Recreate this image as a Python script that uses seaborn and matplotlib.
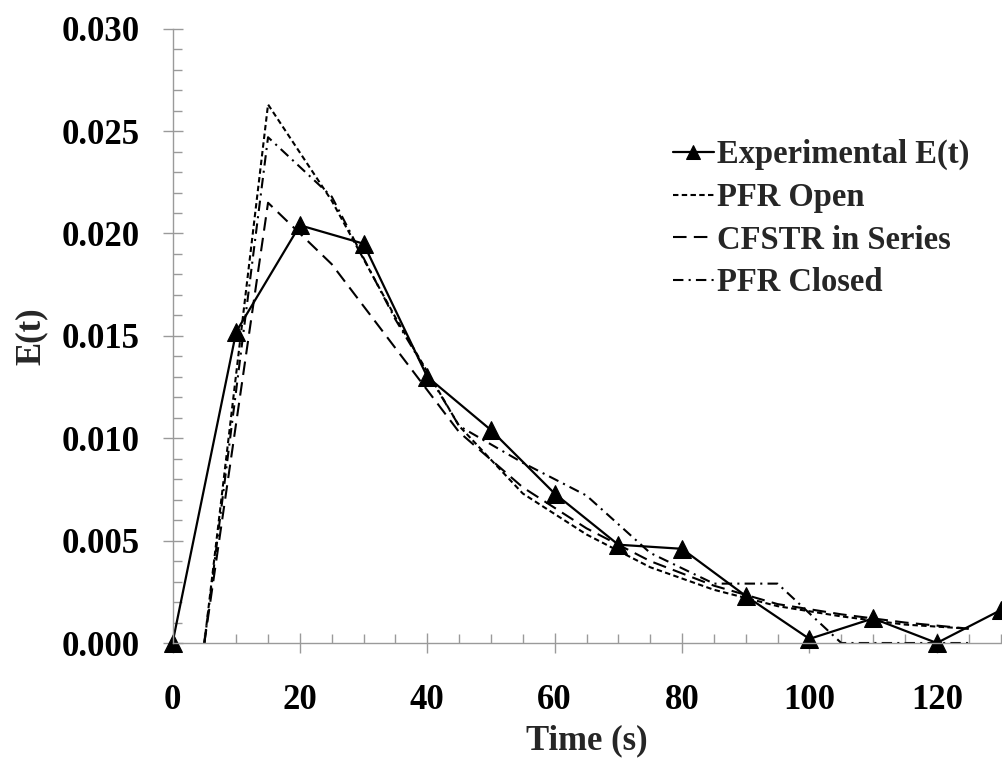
import numpy as np
import pandas as pd
import matplotlib
matplotlib.use("Agg")
import matplotlib.pyplot as plt
from matplotlib.ticker import MultipleLocator, FormatStrFormatter
import seaborn as sns

# ---- data ----
exp_time = [0, 10, 20, 30, 40, 50, 60, 70, 80, 90, 100, 110, 120, 130]
exp_E = [0.0, 0.0152, 0.0204, 0.0195, 0.0130, 0.0104, 0.0073, 0.0048,
         0.0046, 0.0023, 0.0002, 0.0012, 0.0, 0.0016]

model_time = [5, 15, 25, 35, 45, 55, 65, 75, 85, 95, 105, 115, 125]
pfr_open = [0.0, 0.0263, 0.0216, 0.0159, 0.0106, 0.0073, 0.0053, 0.0037,
            0.0026, 0.0018, 0.0013, 0.0009, 0.0007]
cfstr_series = [0.0, 0.0215, 0.0185, 0.0144, 0.0103, 0.0076, 0.0056, 0.0040,
                0.0028, 0.0019, 0.0014, 0.0010, 0.0007]
pfr_closed = [0.0, 0.0247, 0.0218, 0.0158, 0.0106, 0.0088, 0.0072, 0.0044,
              0.0029, 0.0029, 0.0, 0.0, 0.0]

labels = ["Experimental E(t)", "PFR Open", "CFSTR in Series", "PFR Closed"]

# ---- style ----
sns.set_style("ticks")
plt.rcParams["font.family"] = ["Liberation Serif", "DejaVu Serif"]
plt.rcParams["font.weight"] = "bold"

fig = plt.figure(figsize=(10.02, 7.59), dpi=100)
ax = fig.add_axes([172.5 / 1002, 1 - 643 / 759, 828 / 1002, (643 - 28.7) / 759])

df_exp = pd.DataFrame({"t": exp_time, "E": exp_E})
df_mod = pd.DataFrame({"t": model_time, "open": pfr_open,
                       "cfstr": cfstr_series, "closed": pfr_closed})

lw = 1.5
sns.lineplot(data=df_mod, x="t", y="open", ax=ax, color="black", lw=lw,
             linestyle=(0, (2.6, 1.6)), label=labels[1])
sns.lineplot(data=df_mod, x="t", y="cfstr", ax=ax, color="black", lw=lw,
             linestyle=(0, (6.5, 3.5)), label=labels[2])
sns.lineplot(data=df_mod, x="t", y="closed", ax=ax, color="black", lw=lw,
             linestyle=(0, (5, 2.5, 1, 2.5)), label=labels[3])
sns.lineplot(data=df_exp, x="t", y="E", ax=ax, color="black", lw=1.6,
             marker="^", markersize=13, markeredgecolor="black",
             label=labels[0], clip_on=False)

ax.set_xlim(0, 130)
ax.set_ylim(0, 0.030)
ax.xaxis.set_major_locator(MultipleLocator(20))
ax.xaxis.set_minor_locator(MultipleLocator(5))
ax.yaxis.set_major_locator(MultipleLocator(0.005))
ax.yaxis.set_minor_locator(MultipleLocator(0.001))
ax.yaxis.set_major_formatter(FormatStrFormatter("%.3f"))

grey = "#9a9a9a"
for s in ["top", "right"]:
    ax.spines[s].set_visible(False)
for s in ["left", "bottom"]:
    ax.spines[s].set_color(grey)
    ax.spines[s].set_linewidth(1.0)

ax.tick_params(axis="both", which="major", direction="inout", length=15,
               width=1.0, color=grey, labelsize=25, labelcolor="black")
ax.tick_params(axis="both", which="minor", direction="in", length=6.5,
               width=1.0, color=grey)
ax.tick_params(axis="y", which="major", pad=16)
ax.tick_params(axis="x", which="major", pad=22)
for lab in ax.get_xticklabels() + ax.get_yticklabels():
    lab.set_fontweight("bold")

ax.set_xlabel("Time (s)", fontsize=25, fontweight="bold", labelpad=5)
ax.set_ylabel("E(t)", fontsize=25, fontweight="bold", labelpad=10)

handles, labs = ax.get_legend_handles_labels()
order = [labs.index(l) for l in labels]
ax.legend([handles[i] for i in order], [labs[i] for i in order],
          loc="upper left", bbox_to_anchor=(673 / 1002, 1 - 139 / 759),
          bbox_transform=fig.transFigure, frameon=False,
          handlelength=1.25, handletextpad=0.1, labelspacing=0.36,
          borderpad=0, borderaxespad=0, markerscale=0.75,
          prop={"weight": "bold", "size": 23.5})

fig.savefig("out.png", dpi=100)
